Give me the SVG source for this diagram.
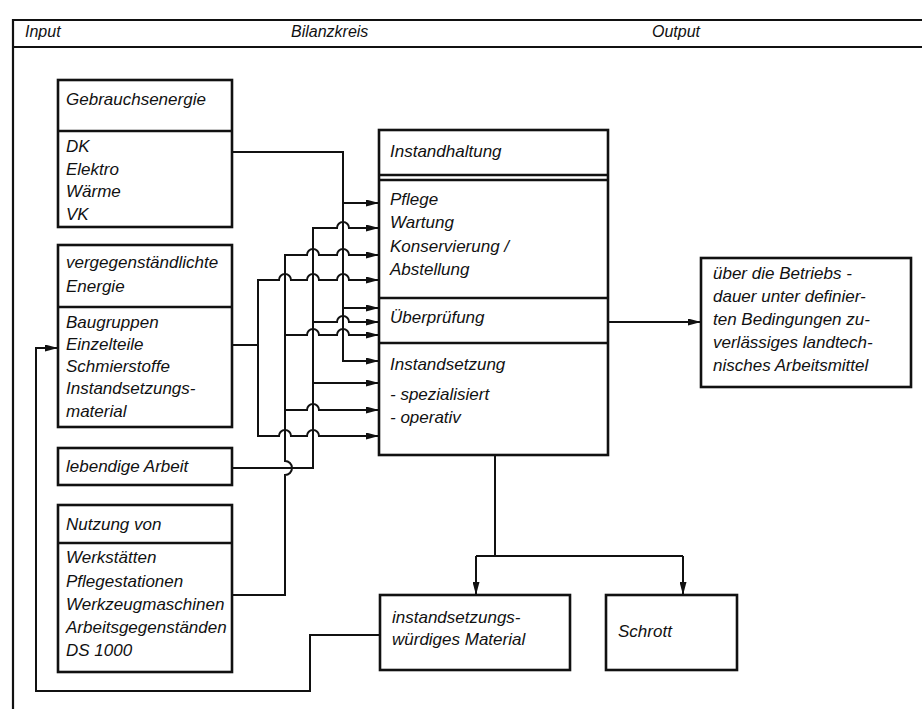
<svg xmlns="http://www.w3.org/2000/svg" width="922" height="709" viewBox="0 0 922 709">
<style>
.box{fill:none;stroke:#111;stroke-width:2.6}
.ln{fill:none;stroke:#111;stroke-width:2}
.fr{fill:none;stroke:#111;stroke-width:2.2}
text{font-family:"Liberation Sans","DejaVu Sans",sans-serif;font-style:italic;font-size:17px;fill:#111}
.hd{font-size:16px}
.arr{marker-end:url(#ah)}
</style>
<defs>
<marker id="ah" viewBox="0 0 13 7" refX="13" refY="3.5" markerWidth="13" markerHeight="7" markerUnits="userSpaceOnUse" orient="auto">
<path d="M0,0 L13,3.5 L0,7 z" fill="#111"/>
</marker>
</defs>
<rect width="922" height="709" fill="#fff"/>
<g id="frame">
<path class="fr" d="M922,20 H13 V709"/>
<path class="fr" d="M13,47 H922"/>
<text class="hd" x="25" y="37">Input</text>
<text class="hd" x="291" y="37">Bilanzkreis</text>
<text class="hd" x="652" y="37">Output</text>
</g>
<g id="gebrauchsenergie">
<rect class="box" x="58" y="80" width="174" height="147"/>
<path class="box" d="M58,131 H232"/>
<text x="66" y="105">Gebrauchsenergie</text>
<text x="66" y="152">DK</text>
<text x="66" y="175">Elektro</text>
<text x="66" y="197">Wärme</text>
<text x="66" y="220">VK</text>
</g>
<g id="vergegenstaendlichte">
<rect class="box" x="58" y="245" width="174" height="182"/>
<path class="box" d="M58,307 H232"/>
<text x="66" y="268">vergegenständlichte</text>
<text x="66" y="292">Energie</text>
<text x="66" y="328">Baugruppen</text>
<text x="66" y="350">Einzelteile</text>
<text x="66" y="372">Schmierstoffe</text>
<text x="66" y="394">Instandsetzungs-</text>
<text x="66" y="417">material</text>
</g>
<g id="lebendige">
<rect class="box" x="58" y="448" width="174" height="37"/>
<text x="66" y="472">lebendige Arbeit</text>
</g>
<g id="nutzung">
<rect class="box" x="58" y="505" width="174" height="167"/>
<path class="box" d="M58,543 H232"/>
<text x="66" y="530">Nutzung von</text>
<text x="66" y="563">Werkstätten</text>
<text x="66" y="587">Pflegestationen</text>
<text x="66" y="610">Werkzeugmaschinen</text>
<text x="66" y="633">Arbeitsgegenständen</text>
<text x="66" y="656">DS 1000</text>
</g>
<g id="bilanzkreis">
<rect class="box" x="379" y="130" width="229" height="325"/>
<path class="box" d="M379,175 H608 M379,180 H608 M379,298 H608 M379,343 H608"/>
<text x="390" y="157">Instandhaltung</text>
<text x="390" y="205">Pflege</text>
<text x="390" y="228">Wartung</text>
<text x="390" y="252">Konservierung /</text>
<text x="390" y="275">Abstellung</text>
<text x="390" y="323">Überprüfung</text>
<text x="390" y="370">Instandsetzung</text>
<text x="390" y="400">- spezialisiert</text>
<text x="390" y="423">- operativ</text>
</g>
<g id="output">
<rect class="box" x="701" y="258" width="210" height="129"/>
<text x="713" y="279">über die Betriebs -</text>
<text x="713" y="302">dauer unter definier-</text>
<text x="713" y="325">ten Bedingungen zu-</text>
<text x="713" y="348">verlässiges landtech-</text>
<text x="713" y="371">nisches Arbeitsmittel</text>
</g>
<g id="material">
<rect class="box" x="380" y="595" width="190" height="75"/>
<text x="392" y="623">instandsetzungs-</text>
<text x="392" y="645">würdiges Material</text>
</g>
<g id="schrott">
<rect class="box" x="606" y="595" width="131" height="75"/>
<text x="618" y="637">Schrott</text>
</g>
<g id="connectors">
<path class="ln arr" d="M232,152 H343 V361 H379"/>
<path class="ln arr" d="M343,203 H379"/>
<path class="ln arr" d="M343,308 H379"/>
<path class="ln arr" d="M232,468 H313 V228 H337 A6,6 0 0 1 349,228 H379"/>
<path class="ln arr" d="M313,322 H337 A6,6 0 0 1 349,322 H379"/>
<path class="ln arr" d="M313,383 H379"/>
<path class="ln arr" d="M232,595 H285 V475 A7,7 0 0 0 285,461 V255 H307 A6,6 0 0 1 319,255 H337 A6,6 0 0 1 349,255 H379"/>
<path class="ln arr" d="M285,335 H307 A6,6 0 0 1 319,335 H337 A6,6 0 0 1 349,335 H379"/>
<path class="ln arr" d="M285,410 H307 A6,6 0 0 1 319,410 H379"/>
<path class="ln arr" d="M232,345 H258 V280 H279 A6,6 0 0 1 291,280 H307 A6,6 0 0 1 319,280 H337 A6,6 0 0 1 349,280 H379"/>
<path class="ln arr" d="M258,345 V436 H279 A6,6 0 0 1 291,436 H307 A6,6 0 0 1 319,436 H379"/>
<path class="ln arr" d="M608,322 H701"/>
<path class="ln" d="M495,455 V556 M476,556 H683"/>
<path class="ln arr" d="M476,556 V595"/>
<path class="ln arr" d="M683,556 V595"/>
<path class="ln arr" d="M380,635 H310 V691 H36 V348 H58"/>
</g>
</svg>
